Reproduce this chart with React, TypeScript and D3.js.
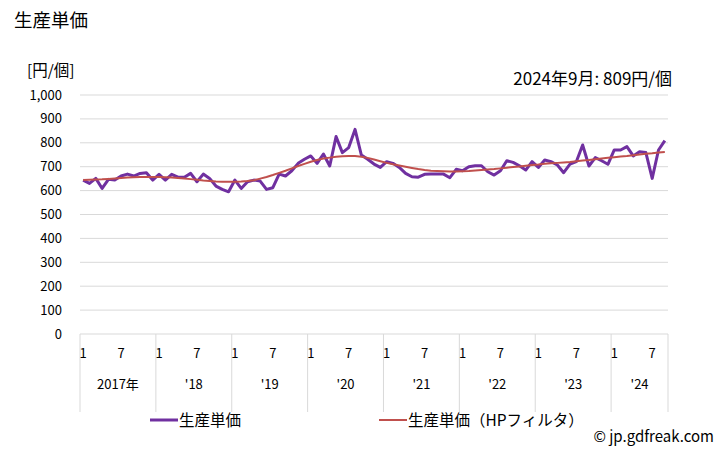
import { useEffect, useRef } from 'react';
import * as d3 from 'd3';

// 2017年1月〜2024年9月 月次
const unitPrice: number[] = [
  644, 630, 651, 609, 647, 644, 661, 669, 661, 672, 675, 644,
  668, 644, 668, 656, 656, 672, 637, 669, 651, 619, 605, 595,
  644, 609, 637, 644, 640, 605, 612, 669, 661, 683, 714, 731,
  745, 714, 753, 703, 826, 759, 780, 856, 749, 731, 711, 697,
  721, 714, 697, 672, 658, 656, 668, 669, 669, 669, 654, 689,
  683, 700, 704, 704, 679, 665, 683, 725, 718, 704, 686, 721,
  697, 728, 721, 707, 675, 711, 721, 791, 703, 738, 725, 710,
  770, 770, 784, 745, 763, 759, 651, 770, 809,
];

const unitPriceHP: number[] = [
  644, 645, 646, 647, 649, 651, 653, 655, 656, 657, 657, 657,
  657, 656, 655, 653, 651, 648, 645, 642, 640, 638, 637, 637,
  637, 638, 640, 643, 650, 657, 665, 674, 683, 693, 703, 712,
  721, 728, 734, 738, 742, 744, 745, 745, 742, 737, 730, 723,
  716, 710, 705, 700, 695, 690, 686, 683, 682, 681, 680, 680,
  681, 682, 684, 686, 688, 690, 693, 696, 699, 701, 704, 707,
  709, 712, 714, 716, 718, 720, 723, 726, 728, 731, 734, 737,
  740, 743, 745, 748, 751, 754, 756, 759, 761,
];

const years = ['2017年', "'18", "'19", "'20", "'21", "'22", "'23", "'24"];
const yTicks = [0, 100, 200, 300, 400, 500, 600, 700, 800, 900, 1000];
const monthLabels = [1, 7];

const W = 728;
const H = 450;
const font = '"Noto Sans CJK JP", "Noto Sans", sans-serif';

export default function App() {
  const svgRef = useRef<SVGSVGElement>(null);

  useEffect(() => {
    if (!svgRef.current) return;
    const svg = d3.select(svgRef.current);
    svg.selectAll('*').remove();

    const left = 80, right = 668, top = 95, bottom = 334;
    const n = unitPrice.length;
    const step = (right - left) / n;

    const x = d3.scaleBand<number>()
      .domain(d3.range(n))
      .range([left, right]);
    const y = d3.scaleLinear().domain([0, 1000]).range([bottom, top]);

    // タイトル
    svg.append('text')
      .attr('x', 14).attr('y', 27)
      .attr('font-size', 18.5).attr('font-family', font)
      .text('生産単価');

    svg.append('text')
      .attr('x', 27).attr('y', 76)
      .attr('font-size', 15.5).attr('font-family', font)
      .text('[円/個]');

    svg.append('text')
      .attr('x', 672).attr('y', 85)
      .attr('text-anchor', 'end')
      .attr('font-size', 17).attr('font-family', font)
      .text('2024年9月: 809円/個');

    // グリッド
    svg.append('g')
      .selectAll('line')
      .data(yTicks.filter(t => t > 0))
      .enter()
      .append('line')
      .attr('x1', left).attr('x2', right)
      .attr('y1', d => y(d)).attr('y2', d => y(d))
      .attr('stroke', '#d9d9d9').attr('stroke-width', 1);

    svg.append('g')
      .selectAll('text')
      .data(yTicks)
      .enter()
      .append('text')
      .attr('x', 62)
      .attr('y', d => y(d) + 4.5)
      .attr('text-anchor', 'end')
      .attr('font-size', 13).attr('font-family', font)
      .text(d => d3.format(',')(d));

    // カテゴリ軸
    svg.append('line')
      .attr('x1', left).attr('x2', right)
      .attr('y1', bottom).attr('y2', bottom)
      .attr('stroke', '#d9d9d9');

    const bounds = years.map((_, i) => x(i * 12) as number).concat([right]);
    svg.append('g')
      .selectAll('line')
      .data(bounds)
      .enter()
      .append('line')
      .attr('x1', d => d).attr('x2', d => d)
      .attr('y1', bottom).attr('y2', 412)
      .attr('stroke', '#d9d9d9');

    const mTicks: number[] = [];
    for (let i = 0; i < n; i++) {
      if (monthLabels.includes((i % 12) + 1)) mTicks.push(i);
    }
    svg.append('g')
      .selectAll('text')
      .data(mTicks)
      .enter()
      .append('text')
      .attr('x', d => (x(d) as number) + step / 2)
      .attr('y', 358)
      .attr('text-anchor', 'middle')
      .attr('font-size', 13).attr('font-family', font)
      .text(d => String((d % 12) + 1));

    svg.append('g')
      .selectAll('text')
      .data(years)
      .enter()
      .append('text')
      .attr('x', (_, i) => (bounds[i] + bounds[i + 1]) / 2)
      .attr('y', 389)
      .attr('text-anchor', 'middle')
      .attr('font-size', 13).attr('font-family', font)
      .text(d => d);

    const line = d3.line<number>()
      .x((_, i) => (x(i) as number) + step / 2)
      .y(d => y(d));

    svg.append('path')
      .datum(unitPrice)
      .attr('fill', 'none')
      .attr('stroke', '#7030a0')
      .attr('stroke-width', 3)
      .attr('stroke-linejoin', 'round')
      .attr('d', line);

    svg.append('path')
      .datum(unitPriceHP)
      .attr('fill', 'none')
      .attr('stroke', '#c0504d')
      .attr('stroke-width', 2)
      .attr('d', line);

    // 凡例
    const legend = [
      { label: '生産単価', color: '#7030a0', w: 3, x: 150 },
      { label: '生産単価（HPフィルタ）', color: '#c0504d', w: 2, x: 379 },
    ];
    const lg = svg.append('g');
    legend.forEach(l => {
      lg.append('line')
        .attr('x1', l.x).attr('x2', l.x + 28)
        .attr('y1', 420).attr('y2', 420)
        .attr('stroke', l.color).attr('stroke-width', l.w);
      lg.append('text')
        .attr('x', l.x + 29).attr('y', 426)
        .attr('font-size', 15.5).attr('font-family', font)
        .text(l.label);
    });

    svg.append('text')
      .attr('x', 714).attr('y', 442)
      .attr('text-anchor', 'end')
      .attr('font-size', 15).attr('font-family', font)
      .text('© jp.gdfreak.com');
  }, []);

  return (
    <svg
      ref={svgRef}
      width={W}
      height={H}
      style={{ position: 'absolute', left: 0, top: 0, background: '#fff' }}
    />
  );
}
